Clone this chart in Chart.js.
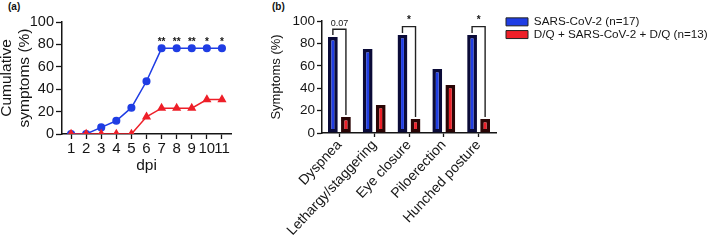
<!DOCTYPE html>
<html>
<head>
<meta charset="utf-8">
<script src="https://cdn.jsdelivr.net/npm/chart.js@4.4.1/dist/chart.umd.min.js"></script>
<style>
  body { margin: 0; background: #fff; width: 709px; height: 249px; overflow: hidden; position: relative; font-family: "Liberation Sans", Arial, sans-serif; }
  .box { position: absolute; top: 0; height: 249px; }
  .tag { position: absolute; top: 1px; font-size: 10px; font-weight: bold; color: #111; }
</style>
</head>
<body>
<div class="tag" style="left:8px">(a)</div>
<div class="tag" style="left:272px">(b)</div>
<div class="box" style="left:0;width:240px"><canvas id="chartA"></canvas></div>
<div class="box" style="left:240px;width:469px"><canvas id="chartB"></canvas></div>
<script>
// panel (a) data
const dpi = [1, 2, 3, 4, 5, 6, 7, 8, 9, 10, 11];
const cumVirus = [0, 0, 5.9, 11.8, 23.5, 47.1, 76.5, 76.5, 76.5, 76.5, 76.5];
const cumDQ = [0, 0, 0, 0, 0, 15.4, 23.1, 23.1, 23.1, 30.8, 30.8];
const starsA = ["", "", "", "", "", "", "**", "**", "**", "*", "*"];

// panel (b) data
const symptoms = ["Dyspnea", "Lethargy/staggering", "Eye closure", "Piloerection", "Hunched posture"];
const symVirus = [85.7, 75, 87.5, 57.1, 87.5];
const symDQ = [14.3, 25, 12.5, 42.9, 12.5];
const bracketCats = [0, 2, 4];
const bracketLevels = [92.6, 95, 95];
const bracketTexts = ["0.07", "*", "*"];

const yTicks = [0, 20, 40, 60, 80, 100];
const BLUE = '#1f3de4';
const RED = '#ee1f28';
const INK = '#151515';
const FONT = '"Liberation Sans", Arial, sans-serif';

Chart.defaults.font.family = FONT;
Chart.defaults.color = INK;
Chart.defaults.animation = false;

const starPlugin = {
  id: 'stars',
  afterDatasetsDraw(chart) {
    const ctx = chart.ctx;
    const xs = chart.scales.x, ys = chart.scales.y;
    ctx.save();
    ctx.fillStyle = INK;
    ctx.font = 'bold 10px ' + FONT;
    ctx.textAlign = 'center';
    ctx.textBaseline = 'middle';
    for (let i = 0; i < dpi.length; i++) {
      if (!starsA[i]) continue;
      ctx.fillText(starsA[i], xs.getPixelForValue(dpi[i]), ys.getPixelForValue(cumVirus[i]) - 6);
    }
    ctx.restore();
  }
};

const bracketPlugin = {
  id: 'brackets',
  afterDatasetsDraw(chart) {
    const ctx = chart.ctx;
    const ys = chart.scales.y;
    const m0 = chart.getDatasetMeta(0).data, m1 = chart.getDatasetMeta(1).data;
    ctx.save();
    ctx.strokeStyle = '#222';
    ctx.lineWidth = 1.4;
    ctx.fillStyle = INK;
    ctx.textAlign = 'center';
    ctx.textBaseline = 'bottom';
    bracketCats.forEach((c, k) => {
      const x0 = m0[c].x, x1 = m1[c].x;
      const top = ys.getPixelForValue(bracketLevels[k]);
      ctx.beginPath();
      ctx.moveTo(x0, m0[c].y - 2);
      ctx.lineTo(x0, top);
      ctx.lineTo(x1, top);
      ctx.lineTo(x1, m1[c].y - 2);
      ctx.stroke();
      ctx.font = (bracketTexts[k] === '*' ? 'bold 10px ' : '9px ') + FONT;
      ctx.fillText(bracketTexts[k], (x0 + x1) / 2, top - 1);
    });
    ctx.restore();
  }
};

new Chart(document.getElementById('chartA'), {
  type: 'line',
  data: {
    datasets: [{
      label: 'SARS-CoV-2',
      data: dpi.map((d, i) => ({ x: d, y: cumVirus[i] })),
      borderColor: BLUE, backgroundColor: BLUE,
      borderWidth: 1.5, pointRadius: 3.3, pointStyle: 'circle',
      order: 1
    }, {
      label: 'D/Q + SARS-CoV-2 + D/Q',
      data: dpi.map((d, i) => ({ x: d, y: cumDQ[i] })),
      borderColor: RED, backgroundColor: RED,
      borderWidth: 1.5, pointRadius: 3.8, pointStyle: 'triangle',
      order: 0
    }]
  },
  options: {
    responsive: true, maintainAspectRatio: false,
    layout: { padding: { left: 0, top: 22, right: 9, bottom: 70 } },
    plugins: { legend: { display: false }, tooltip: { enabled: false } },
    scales: {
      x: {
        type: 'linear', min: 0.4, max: 11.6,
        afterBuildTicks: s => { s.ticks = dpi.map(v => ({ value: v })); },
        afterFit: s => { s.height = 45; },
        grid: { drawOnChartArea: false, tickLength: 5, color: INK, tickWidth: 1.3 },
        border: { color: INK, width: 1.5 },
        ticks: { font: { size: 15 }, padding: 1, maxRotation: 0, autoSkip: false, color: INK },
        title: { display: true, text: 'dpi', font: { size: 15.5 }, padding: { top: 1 }, color: INK }
      },
      y: {
        min: 0, max: 100,
        afterBuildTicks: s => { s.ticks = yTicks.map(v => ({ value: v })); },
        afterFit: s => { s.width = 62; },
        grid: { drawOnChartArea: false, tickLength: 6, color: INK, tickWidth: 1.3 },
        border: { color: INK, width: 1.5 },
        ticks: { font: { size: 14.5 }, padding: 2, color: INK },
        title: { display: true, text: ['Cumulative', 'symptoms (%)'], font: { size: 15.5, lineHeight: 1.15 }, padding: { top: -2, bottom: 0 }, color: INK }
      }
    }
  },
  plugins: [starPlugin]
});

new Chart(document.getElementById('chartB'), {
  type: 'bar',
  data: {
    labels: symptoms,
    datasets: [{
      label: 'SARS-CoV-2 (n=17)',
      data: symVirus,
      backgroundColor: BLUE, borderColor: '#0b0b38', borderWidth: 3.5, borderSkipped: false
    }, {
      label: 'D/Q + SARS-CoV-2 + D/Q (n=13)',
      data: symDQ,
      backgroundColor: RED, borderColor: '#2a0505', borderWidth: 3.5, borderSkipped: false
    }]
  },
  options: {
    responsive: true, maintainAspectRatio: false,
    categoryPercentage: 0.75, barPercentage: 0.75,
    layout: { padding: { left: 0, top: 15, right: 0, bottom: 0 } },
    plugins: {
      tooltip: { enabled: false },
      title: { display: true, text: '', fullSize: false, padding: 0, font: { size: 5, lineHeight: 1.2 } },
      legend: {
        position: 'right', align: 'start', maxWidth: 204,
        labels: {
          boxWidth: 22, boxHeight: 8, padding: 1, color: INK,
          font: { size: 11.7 },
          generateLabels: c => Chart.defaults.plugins.legend.labels.generateLabels(c).map(l => ({ ...l, lineWidth: 1, strokeStyle: '#222' }))
        }
      }
    },
    scales: {
      x: {
        afterFit: s => { s.height = 116; },
        grid: { drawOnChartArea: false, tickLength: 4, color: INK, tickWidth: 1.3, offset: false },
        border: { color: INK, width: 1.5 },
        ticks: { font: { size: 14 }, minRotation: 47, maxRotation: 47, padding: 0, autoSkip: false, color: INK }
      },
      y: {
        min: 0, max: 100,
        afterBuildTicks: s => { s.ticks = yTicks.map(v => ({ value: v })); },
        afterFit: s => { s.width = 82; },
        grid: { drawOnChartArea: false, tickLength: 5, color: INK, tickWidth: 1.3 },
        border: { color: INK, width: 1.5 },
        ticks: { font: { size: 13.5 }, padding: 2, color: INK },
        title: { display: true, text: 'Symptoms (%)', font: { size: 13 }, padding: { top: 29, bottom: 0 }, color: INK }
      },
      yR: {
        position: 'right', display: true,
        afterFit: s => { s.width = 9; },
        grid: { display: false }, border: { display: false },
        ticks: { display: false }
      }
    }
  },
  plugins: [bracketPlugin]
});
</script>
</body>
</html>
